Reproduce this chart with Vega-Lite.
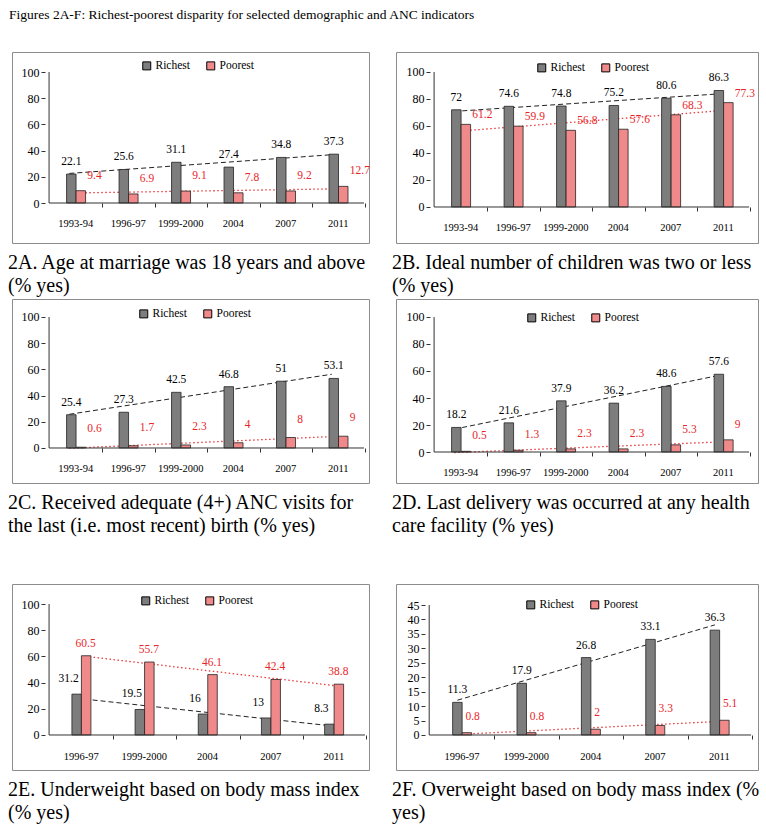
{
"$schema":"https://vega.github.io/schema/vega-lite/v6.json",
"background":"white",
"padding":{"left":7,"top":8,"right":5,"bottom":5},
"title":{"text":"Figures 2A-F: Richest-poorest disparity for selected demographic and ANC indicators","anchor":"start","frame":"group","fontSize":13.5,"fontWeight":"normal","font":"Liberation Serif","offset":30,"dx":-3,"color":"#000"},
"config":{"view":{"stroke":"#8c8c8c","strokeWidth":1},"font":"Liberation Serif","axis":{"labelFont":"Liberation Serif","labelColor":"#000","tickColor":"#333"},"legend":{"labelFont":"Liberation Serif","labelColor":"#000"},"title":{"font":"Liberation Serif","fontWeight":"normal","color":"#000"}},
"datasets":{"d":[
{"panel":"2A","idx":1,"year":"1993-94","series":"Richest","value":22.1},{"panel":"2A","idx":1,"year":"1993-94","series":"Poorest","value":9.4},
{"panel":"2A","idx":2,"year":"1996-97","series":"Richest","value":25.6},{"panel":"2A","idx":2,"year":"1996-97","series":"Poorest","value":6.9},
{"panel":"2A","idx":3,"year":"1999-2000","series":"Richest","value":31.1},{"panel":"2A","idx":3,"year":"1999-2000","series":"Poorest","value":9.1},
{"panel":"2A","idx":4,"year":"2004","series":"Richest","value":27.4},{"panel":"2A","idx":4,"year":"2004","series":"Poorest","value":7.8},
{"panel":"2A","idx":5,"year":"2007","series":"Richest","value":34.8},{"panel":"2A","idx":5,"year":"2007","series":"Poorest","value":9.2},
{"panel":"2A","idx":6,"year":"2011","series":"Richest","value":37.3},{"panel":"2A","idx":6,"year":"2011","series":"Poorest","value":12.7},
{"panel":"2B","idx":1,"year":"1993-94","series":"Richest","value":72},{"panel":"2B","idx":1,"year":"1993-94","series":"Poorest","value":61.2},
{"panel":"2B","idx":2,"year":"1996-97","series":"Richest","value":74.6},{"panel":"2B","idx":2,"year":"1996-97","series":"Poorest","value":59.9},
{"panel":"2B","idx":3,"year":"1999-2000","series":"Richest","value":74.8},{"panel":"2B","idx":3,"year":"1999-2000","series":"Poorest","value":56.8},
{"panel":"2B","idx":4,"year":"2004","series":"Richest","value":75.2},{"panel":"2B","idx":4,"year":"2004","series":"Poorest","value":57.6},
{"panel":"2B","idx":5,"year":"2007","series":"Richest","value":80.6},{"panel":"2B","idx":5,"year":"2007","series":"Poorest","value":68.3},
{"panel":"2B","idx":6,"year":"2011","series":"Richest","value":86.3},{"panel":"2B","idx":6,"year":"2011","series":"Poorest","value":77.3},
{"panel":"2C","idx":1,"year":"1993-94","series":"Richest","value":25.4},{"panel":"2C","idx":1,"year":"1993-94","series":"Poorest","value":0.6},
{"panel":"2C","idx":2,"year":"1996-97","series":"Richest","value":27.3},{"panel":"2C","idx":2,"year":"1996-97","series":"Poorest","value":1.7},
{"panel":"2C","idx":3,"year":"1999-2000","series":"Richest","value":42.5},{"panel":"2C","idx":3,"year":"1999-2000","series":"Poorest","value":2.3},
{"panel":"2C","idx":4,"year":"2004","series":"Richest","value":46.8},{"panel":"2C","idx":4,"year":"2004","series":"Poorest","value":4},
{"panel":"2C","idx":5,"year":"2007","series":"Richest","value":51},{"panel":"2C","idx":5,"year":"2007","series":"Poorest","value":8},
{"panel":"2C","idx":6,"year":"2011","series":"Richest","value":53.1},{"panel":"2C","idx":6,"year":"2011","series":"Poorest","value":9},
{"panel":"2D","idx":1,"year":"1993-94","series":"Richest","value":18.2},{"panel":"2D","idx":1,"year":"1993-94","series":"Poorest","value":0.5},
{"panel":"2D","idx":2,"year":"1996-97","series":"Richest","value":21.6},{"panel":"2D","idx":2,"year":"1996-97","series":"Poorest","value":1.3},
{"panel":"2D","idx":3,"year":"1999-2000","series":"Richest","value":37.9},{"panel":"2D","idx":3,"year":"1999-2000","series":"Poorest","value":2.3},
{"panel":"2D","idx":4,"year":"2004","series":"Richest","value":36.2},{"panel":"2D","idx":4,"year":"2004","series":"Poorest","value":2.3},
{"panel":"2D","idx":5,"year":"2007","series":"Richest","value":48.6},{"panel":"2D","idx":5,"year":"2007","series":"Poorest","value":5.3},
{"panel":"2D","idx":6,"year":"2011","series":"Richest","value":57.6},{"panel":"2D","idx":6,"year":"2011","series":"Poorest","value":9},
{"panel":"2E","idx":1,"year":"1996-97","series":"Richest","value":31.2},{"panel":"2E","idx":1,"year":"1996-97","series":"Poorest","value":60.5},
{"panel":"2E","idx":2,"year":"1999-2000","series":"Richest","value":19.5},{"panel":"2E","idx":2,"year":"1999-2000","series":"Poorest","value":55.7},
{"panel":"2E","idx":3,"year":"2004","series":"Richest","value":16},{"panel":"2E","idx":3,"year":"2004","series":"Poorest","value":46.1},
{"panel":"2E","idx":4,"year":"2007","series":"Richest","value":13},{"panel":"2E","idx":4,"year":"2007","series":"Poorest","value":42.4},
{"panel":"2E","idx":5,"year":"2011","series":"Richest","value":8.3},{"panel":"2E","idx":5,"year":"2011","series":"Poorest","value":38.8},
{"panel":"2F","idx":1,"year":"1996-97","series":"Richest","value":11.3},{"panel":"2F","idx":1,"year":"1996-97","series":"Poorest","value":0.8},
{"panel":"2F","idx":2,"year":"1999-2000","series":"Richest","value":17.9},{"panel":"2F","idx":2,"year":"1999-2000","series":"Poorest","value":0.8},
{"panel":"2F","idx":3,"year":"2004","series":"Richest","value":26.8},{"panel":"2F","idx":3,"year":"2004","series":"Poorest","value":2},
{"panel":"2F","idx":4,"year":"2007","series":"Richest","value":33.1},{"panel":"2F","idx":4,"year":"2007","series":"Poorest","value":3.3},
{"panel":"2F","idx":5,"year":"2011","series":"Richest","value":36.3},{"panel":"2F","idx":5,"year":"2011","series":"Poorest","value":5.1}
]},
"spacing":46,
"resolve":{"scale":{"fill":"independent"},"legend":{"fill":"independent"}},
"vconcat":[
{"spacing":1,"resolve":{"scale":{"fill":"independent"},"legend":{"fill":"independent"}},
 "vconcat":[
 {"hconcat":[
  {"width":357,"height":191,
   "title":{"text":["2A. Age at marriage was 18 years and above","(% yes)"],"orient":"bottom","anchor":"start","frame":"group","offset":10,"dx":-4,"fontSize":20,"lineHeight":23,"fontWeight":"normal"},
   "data":{"name":"d"},"transform":[{"filter":"datum.panel == '2A'"}],
   "encoding":{
    "x":{"field":"idx","type":"quantitative","scale":{"domain":[-0.111,6.5],"nice":false,"zero":false},"axis":{"title":null,"values":[1,2,3,4,5,6],"labelExpr":"['1993-94','1996-97','1999-2000','2004','2007','2011'][datum.value-1]","domain":false,"grid":false,"offset":-40,"tickSize":4,"tickOffset":27,"labelOffset":-27,"labelPadding":11,"labelFontSize":10.5}},
    "y":{"field":"value","type":"quantitative","scale":{"domain":[-30.53,115.27],"nice":false,"zero":false},"axis":{"title":null,"values":[0,20,40,60,80,100],"domain":false,"grid":false,"offset":-33,"tickSize":4,"labelPadding":2,"labelFontSize":12}}},
   "layer":[
    {"transform":[{"filter":"datum.series == 'Richest'"},{"regression":"value","on":"idx"}],"mark":{"type":"line","color":"#222","strokeDash":[5,3],"strokeWidth":1,"xOffset":-6}},
    {"transform":[{"filter":"datum.series == 'Poorest'"},{"regression":"value","on":"idx"}],"mark":{"type":"line","color":"#e8383a","strokeDash":[1.5,2.5],"strokeWidth":1.3,"xOffset":-6}},
    {"transform":[{"filter":"datum.series == 'Richest'"}],"mark":{"type":"bar","orient":"vertical","size":9.5,"xOffset":-4,"stroke":"#222","strokeWidth":0.8},
     "encoding":{"y2":{"datum":0},"fill":{"field":"series","type":"nominal","scale":{"domain":["Richest","Poorest"],"range":["#7d7d7d","#f08a8a"]},"legend":{"orient":"none","legendX":129,"legendY":8,"direction":"horizontal","title":null,"symbolType":"square","symbolSize":64,"symbolStrokeColor":"#000","symbolStrokeWidth":1,"labelFontSize":11.5,"labelOffset":3,"columnPadding":14,"padding":0}}}},
    {"transform":[{"filter":"datum.series == 'Poorest'"}],"mark":{"type":"bar","orient":"vertical","size":9.5,"xOffset":5.5,"stroke":"#222","strokeWidth":0.8},
     "encoding":{"y2":{"datum":0},"fill":{"field":"series","type":"nominal","scale":{"domain":["Richest","Poorest"],"range":["#7d7d7d","#f08a8a"]},"legend":null}}},
    {"transform":[{"filter":"datum.series == 'Richest'"}],"mark":{"type":"text","align":"center","baseline":"middle","dx":-4,"dy":-12,"fontSize":11.5,"color":"#000"},"encoding":{"text":{"field":"value","type":"nominal"}}},
    {"transform":[{"filter":"datum.series == 'Poorest'"}],"mark":{"type":"text","align":"left","baseline":"middle","dx":12,"dy":-15,"fontSize":11.5,"color":"#e8262a"},"encoding":{"text":{"field":"value","type":"nominal"}}},
    {"transform":[{"filter":"datum.idx == 1 && datum.series == 'Richest'"}],"mark":{"type":"rule","color":"#333","strokeWidth":1},"encoding":{"x":{"datum":0.5},"y":{"datum":0},"y2":{"datum":100}}},
    {"transform":[{"filter":"datum.idx == 1 && datum.series == 'Richest'"}],"mark":{"type":"rule","color":"#333","strokeWidth":1},"encoding":{"x":{"datum":0.5},"x2":{"datum":6.5},"y":{"datum":0}}}
   ]},
  {"width":362,"height":191,
   "title":{"text":["2B. Ideal number of children was two or less","(% yes)"],"orient":"bottom","anchor":"start","frame":"group","offset":10,"dx":-4,"fontSize":20,"lineHeight":23,"fontWeight":"normal"},
   "data":{"name":"d"},"transform":[{"filter":"datum.panel == '2B'"}],
   "encoding":{
    "x":{"field":"idx","type":"quantitative","scale":{"domain":[-0.13,6.574],"nice":false,"zero":false},"axis":{"title":null,"values":[1,2,3,4,5,6],"labelExpr":"['1993-94','1996-97','1999-2000','2004','2007','2011'][datum.value-1]","domain":false,"grid":false,"offset":-36,"tickSize":4,"tickOffset":27,"labelOffset":-27,"labelPadding":11,"labelFontSize":10.5}},
    "y":{"field":"value","type":"quantitative","scale":{"domain":[-26.67,114.81],"nice":false,"zero":false},"axis":{"title":null,"values":[0,20,40,60,80,100],"domain":false,"grid":false,"offset":-34,"tickSize":4,"labelPadding":2,"labelFontSize":12}}},
   "layer":[
    {"transform":[{"filter":"datum.series == 'Richest'"},{"regression":"value","on":"idx"}],"mark":{"type":"line","color":"#222","strokeDash":[5,3],"strokeWidth":1,"xOffset":-6}},
    {"transform":[{"filter":"datum.series == 'Poorest'"},{"regression":"value","on":"idx"}],"mark":{"type":"line","color":"#e8383a","strokeDash":[1.5,2.5],"strokeWidth":1.3,"xOffset":-6}},
    {"transform":[{"filter":"datum.series == 'Richest'"}],"mark":{"type":"bar","orient":"vertical","size":9.5,"xOffset":-4,"stroke":"#222","strokeWidth":0.8},
     "encoding":{"y2":{"datum":0},"fill":{"field":"series","type":"nominal","scale":{"domain":["Richest","Poorest"],"range":["#7d7d7d","#f08a8a"]},"legend":{"orient":"none","legendX":140,"legendY":10,"direction":"horizontal","title":null,"symbolType":"square","symbolSize":64,"symbolStrokeColor":"#000","symbolStrokeWidth":1,"labelFontSize":11.5,"labelOffset":3,"columnPadding":14,"padding":0}}}},
    {"transform":[{"filter":"datum.series == 'Poorest'"}],"mark":{"type":"bar","orient":"vertical","size":9.5,"xOffset":5.5,"stroke":"#222","strokeWidth":0.8},
     "encoding":{"y2":{"datum":0},"fill":{"field":"series","type":"nominal","scale":{"domain":["Richest","Poorest"],"range":["#7d7d7d","#f08a8a"]},"legend":null}}},
    {"transform":[{"filter":"datum.series == 'Richest'"}],"mark":{"type":"text","align":"center","baseline":"middle","dx":-4,"dy":-12,"fontSize":11.5,"color":"#000"},"encoding":{"text":{"field":"value","type":"nominal"}}},
    {"transform":[{"filter":"datum.series == 'Poorest'"}],"mark":{"type":"text","align":"left","baseline":"middle","dx":12,"dy":-9,"fontSize":11.5,"color":"#e8262a"},"encoding":{"text":{"field":"value","type":"nominal"}}},
    {"transform":[{"filter":"datum.idx == 1 && datum.series == 'Richest'"}],"mark":{"type":"rule","color":"#333","strokeWidth":1},"encoding":{"x":{"datum":0.5},"y":{"datum":0},"y2":{"datum":100}}},
    {"transform":[{"filter":"datum.idx == 1 && datum.series == 'Richest'"}],"mark":{"type":"rule","color":"#333","strokeWidth":1},"encoding":{"x":{"datum":0.5},"x2":{"datum":6.5},"y":{"datum":0}}}
   ]}
 ],"spacing":27,"bounds":"flush","resolve":{"scale":{"fill":"independent"},"legend":{"fill":"independent"}}},
 {"hconcat":[
  {"width":357,"height":184,
   "title":{"text":["2C. Received adequate (4+) ANC visits for","the last (i.e. most recent) birth  (% yes)"],"orient":"bottom","anchor":"start","frame":"group","offset":10,"dx":-4,"fontSize":20,"lineHeight":23,"fontWeight":"normal"},
   "data":{"name":"d"},"transform":[{"filter":"datum.panel == '2C'"}],
   "encoding":{
    "x":{"field":"idx","type":"quantitative","scale":{"domain":[-0.111,6.5],"nice":false,"zero":false},"axis":{"title":null,"values":[1,2,3,4,5,6],"labelExpr":"['1993-94','1996-97','1999-2000','2004','2007','2011'][datum.value-1]","domain":false,"grid":false,"offset":-35,"tickSize":4,"tickOffset":27,"labelOffset":-27,"labelPadding":11,"labelFontSize":10.5}},
    "y":{"field":"value","type":"quantitative","scale":{"domain":[-26.72,113.74],"nice":false,"zero":false},"axis":{"title":null,"values":[0,20,40,60,80,100],"domain":false,"grid":false,"offset":-33,"tickSize":4,"labelPadding":2,"labelFontSize":12}}},
   "layer":[
    {"transform":[{"filter":"datum.series == 'Richest'"},{"regression":"value","on":"idx"}],"mark":{"type":"line","color":"#222","strokeDash":[5,3],"strokeWidth":1,"xOffset":-6}},
    {"transform":[{"filter":"datum.series == 'Poorest'"},{"regression":"value","on":"idx"}],"mark":{"type":"line","color":"#e8383a","strokeDash":[1.5,2.5],"strokeWidth":1.3,"xOffset":-6}},
    {"transform":[{"filter":"datum.series == 'Richest'"}],"mark":{"type":"bar","orient":"vertical","size":9.5,"xOffset":-4,"stroke":"#222","strokeWidth":0.8},
     "encoding":{"y2":{"datum":0},"fill":{"field":"series","type":"nominal","scale":{"domain":["Richest","Poorest"],"range":["#7d7d7d","#f08a8a"]},"legend":{"orient":"none","legendX":126,"legendY":9,"direction":"horizontal","title":null,"symbolType":"square","symbolSize":64,"symbolStrokeColor":"#000","symbolStrokeWidth":1,"labelFontSize":11.5,"labelOffset":3,"columnPadding":14,"padding":0}}}},
    {"transform":[{"filter":"datum.series == 'Poorest'"}],"mark":{"type":"bar","orient":"vertical","size":9.5,"xOffset":5.5,"stroke":"#222","strokeWidth":0.8},
     "encoding":{"y2":{"datum":0},"fill":{"field":"series","type":"nominal","scale":{"domain":["Richest","Poorest"],"range":["#7d7d7d","#f08a8a"]},"legend":null}}},
    {"transform":[{"filter":"datum.series == 'Richest'"}],"mark":{"type":"text","align":"center","baseline":"middle","dx":-4,"dy":-12,"fontSize":11.5,"color":"#000"},"encoding":{"text":{"field":"value","type":"nominal"}}},
    {"transform":[{"filter":"datum.series == 'Poorest'"}],"mark":{"type":"text","align":"left","baseline":"middle","dx":12,"dy":-18,"fontSize":11.5,"color":"#e8262a"},"encoding":{"text":{"field":"value","type":"nominal"}}},
    {"transform":[{"filter":"datum.idx == 1 && datum.series == 'Richest'"}],"mark":{"type":"rule","color":"#333","strokeWidth":1},"encoding":{"x":{"datum":0.5},"y":{"datum":0},"y2":{"datum":100}}},
    {"transform":[{"filter":"datum.idx == 1 && datum.series == 'Richest'"}],"mark":{"type":"rule","color":"#333","strokeWidth":1},"encoding":{"x":{"datum":0.5},"x2":{"datum":6.5},"y":{"datum":0}}}
   ]},
  {"width":362,"height":184,
   "title":{"text":["2D. Last delivery was occurred at any health","care facility  (% yes)"],"orient":"bottom","anchor":"start","frame":"group","offset":10,"dx":-4,"fontSize":20,"lineHeight":23,"fontWeight":"normal"},
   "data":{"name":"d"},"transform":[{"filter":"datum.panel == '2D'"}],
   "encoding":{
    "x":{"field":"idx","type":"quantitative","scale":{"domain":[-0.13,6.574],"nice":false,"zero":false},"axis":{"title":null,"values":[1,2,3,4,5,6],"labelExpr":"['1993-94','1996-97','1999-2000','2004','2007','2011'][datum.value-1]","domain":false,"grid":false,"offset":-31,"tickSize":4,"tickOffset":27,"labelOffset":-27,"labelPadding":11,"labelFontSize":10.5}},
    "y":{"field":"value","type":"quantitative","scale":{"domain":[-22.96,113.33],"nice":false,"zero":false},"axis":{"title":null,"values":[0,20,40,60,80,100],"domain":false,"grid":false,"offset":-34,"tickSize":4,"labelPadding":2,"labelFontSize":12}}},
   "layer":[
    {"transform":[{"filter":"datum.series == 'Richest'"},{"regression":"value","on":"idx"}],"mark":{"type":"line","color":"#222","strokeDash":[5,3],"strokeWidth":1,"xOffset":-6}},
    {"transform":[{"filter":"datum.series == 'Poorest'"},{"regression":"value","on":"idx"}],"mark":{"type":"line","color":"#e8383a","strokeDash":[1.5,2.5],"strokeWidth":1.3,"xOffset":-6}},
    {"transform":[{"filter":"datum.series == 'Richest'"}],"mark":{"type":"bar","orient":"vertical","size":9.5,"xOffset":-4,"stroke":"#222","strokeWidth":0.8},
     "encoding":{"y2":{"datum":0},"fill":{"field":"series","type":"nominal","scale":{"domain":["Richest","Poorest"],"range":["#7d7d7d","#f08a8a"]},"legend":{"orient":"none","legendX":130,"legendY":13,"direction":"horizontal","title":null,"symbolType":"square","symbolSize":64,"symbolStrokeColor":"#000","symbolStrokeWidth":1,"labelFontSize":11.5,"labelOffset":3,"columnPadding":14,"padding":0}}}},
    {"transform":[{"filter":"datum.series == 'Poorest'"}],"mark":{"type":"bar","orient":"vertical","size":9.5,"xOffset":5.5,"stroke":"#222","strokeWidth":0.8},
     "encoding":{"y2":{"datum":0},"fill":{"field":"series","type":"nominal","scale":{"domain":["Richest","Poorest"],"range":["#7d7d7d","#f08a8a"]},"legend":null}}},
    {"transform":[{"filter":"datum.series == 'Richest'"}],"mark":{"type":"text","align":"center","baseline":"middle","dx":-4,"dy":-12,"fontSize":11.5,"color":"#000"},"encoding":{"text":{"field":"value","type":"nominal"}}},
    {"transform":[{"filter":"datum.series == 'Poorest'"}],"mark":{"type":"text","align":"left","baseline":"middle","dx":12,"dy":-15,"fontSize":11.5,"color":"#e8262a"},"encoding":{"text":{"field":"value","type":"nominal"}}},
    {"transform":[{"filter":"datum.idx == 1 && datum.series == 'Richest'"}],"mark":{"type":"rule","color":"#333","strokeWidth":1},"encoding":{"x":{"datum":0.5},"y":{"datum":0},"y2":{"datum":100}}},
    {"transform":[{"filter":"datum.idx == 1 && datum.series == 'Richest'"}],"mark":{"type":"rule","color":"#333","strokeWidth":1},"encoding":{"x":{"datum":0.5},"x2":{"datum":6.5},"y":{"datum":0}}}
   ]}
 ],"spacing":27,"bounds":"flush","resolve":{"scale":{"fill":"independent"},"legend":{"fill":"independent"}}}
 ]},
 {"hconcat":[
  {"width":357,"height":186,
   "title":{"text":["2E. Underweight based on body mass index","(% yes)"],"orient":"bottom","anchor":"start","frame":"group","offset":10,"dx":-4,"fontSize":20,"lineHeight":23,"fontWeight":"normal"},
   "data":{"name":"d"},"transform":[{"filter":"datum.panel == '2E'"}],
   "encoding":{
    "x":{"field":"idx","type":"quantitative","scale":{"domain":[-0.0077,5.485],"nice":false,"zero":false},"axis":{"title":null,"values":[1,2,3,4,5],"labelExpr":"['1996-97','1999-2000','2004','2007','2011'][datum.value-1]","domain":false,"grid":false,"offset":-35,"tickSize":4,"tickOffset":32.5,"labelOffset":-32.5,"labelPadding":12,"labelFontSize":10.5}},
    "y":{"field":"value","type":"quantitative","scale":{"domain":[-26.72,115.27],"nice":false,"zero":false},"axis":{"title":null,"values":[0,20,40,60,80,100],"domain":false,"grid":false,"offset":-33,"tickSize":4,"labelPadding":2,"labelFontSize":12}}},
   "layer":[
    {"transform":[{"filter":"datum.series == 'Richest'"},{"regression":"value","on":"idx"}],"mark":{"type":"line","color":"#222","strokeDash":[5,3],"strokeWidth":1,"xOffset":-4}},
    {"transform":[{"filter":"datum.series == 'Poorest'"},{"regression":"value","on":"idx"}],"mark":{"type":"line","color":"#e8383a","strokeDash":[1.5,2.5],"strokeWidth":1.3,"xOffset":5}},
    {"transform":[{"filter":"datum.series == 'Richest'"}],"mark":{"type":"bar","orient":"vertical","size":9.5,"xOffset":-4,"stroke":"#222","strokeWidth":0.8},
     "encoding":{"y2":{"datum":0},"fill":{"field":"series","type":"nominal","scale":{"domain":["Richest","Poorest"],"range":["#7d7d7d","#f08a8a"]},"legend":{"orient":"none","legendX":128,"legendY":11,"direction":"horizontal","title":null,"symbolType":"square","symbolSize":64,"symbolStrokeColor":"#000","symbolStrokeWidth":1,"labelFontSize":11.5,"labelOffset":3,"columnPadding":14,"padding":0}}}},
    {"transform":[{"filter":"datum.series == 'Poorest'"}],"mark":{"type":"bar","orient":"vertical","size":9.5,"xOffset":5.5,"stroke":"#222","strokeWidth":0.8},
     "encoding":{"y2":{"datum":0},"fill":{"field":"series","type":"nominal","scale":{"domain":["Richest","Poorest"],"range":["#7d7d7d","#f08a8a"]},"legend":null}}},
    {"transform":[{"filter":"datum.series == 'Richest'"}],"mark":{"type":"text","align":"center","baseline":"middle","dx":-12,"dy":-15,"fontSize":11.5,"color":"#000"},"encoding":{"text":{"field":"value","type":"nominal"}}},
    {"transform":[{"filter":"datum.series == 'Poorest'"}],"mark":{"type":"text","align":"center","baseline":"middle","dx":5,"dy":-12,"fontSize":11.5,"color":"#e8262a"},"encoding":{"text":{"field":"value","type":"nominal"}}},
    {"transform":[{"filter":"datum.idx == 1 && datum.series == 'Richest'"}],"mark":{"type":"rule","color":"#333","strokeWidth":1},"encoding":{"x":{"datum":0.5},"y":{"datum":0},"y2":{"datum":100}}},
    {"transform":[{"filter":"datum.idx == 1 && datum.series == 'Richest'"}],"mark":{"type":"rule","color":"#333","strokeWidth":1},"encoding":{"x":{"datum":0.5},"x2":{"datum":5.5},"y":{"datum":0}}}
   ]},
  {"width":362,"height":186,
   "title":{"text":["2F. Overweight based on body mass index (%","yes)"],"orient":"bottom","anchor":"start","frame":"group","offset":10,"dx":-4,"fontSize":20,"lineHeight":23,"fontWeight":"normal"},
   "data":{"name":"d"},"transform":[{"filter":"datum.panel == '2F'"}],
   "encoding":{
    "x":{"field":"idx","type":"quantitative","scale":{"domain":[0.062,5.53],"nice":false,"zero":false},"axis":{"title":null,"values":[1,2,3,4,5],"labelExpr":"['1996-97','1999-2000','2004','2007','2011'][datum.value-1]","domain":false,"grid":false,"offset":-35,"tickSize":4,"tickOffset":33.1,"labelOffset":-33.1,"labelPadding":12,"labelFontSize":10.5}},
    "y":{"field":"value","type":"quantitative","scale":{"domain":[-12.12,52.27],"nice":false,"zero":false},"axis":{"title":null,"values":[0,5,10,15,20,25,30,35,40,45],"domain":false,"grid":false,"offset":-29,"tickSize":4,"labelPadding":2,"labelFontSize":12}}},
   "layer":[
    {"transform":[{"filter":"datum.series == 'Richest'"},{"regression":"value","on":"idx"}],"mark":{"type":"line","color":"#222","strokeDash":[5,3],"strokeWidth":1,"xOffset":-4}},
    {"transform":[{"filter":"datum.series == 'Poorest'"},{"regression":"value","on":"idx"}],"mark":{"type":"line","color":"#e8383a","strokeDash":[1.5,2.5],"strokeWidth":1.3,"xOffset":-4}},
    {"transform":[{"filter":"datum.series == 'Richest'"}],"mark":{"type":"bar","orient":"vertical","size":9.5,"xOffset":-4,"stroke":"#222","strokeWidth":0.8},
     "encoding":{"y2":{"datum":0},"fill":{"field":"series","type":"nominal","scale":{"domain":["Richest","Poorest"],"range":["#7d7d7d","#f08a8a"]},"legend":{"orient":"none","legendX":129,"legendY":15,"direction":"horizontal","title":null,"symbolType":"square","symbolSize":64,"symbolStrokeColor":"#000","symbolStrokeWidth":1,"labelFontSize":11.5,"labelOffset":3,"columnPadding":14,"padding":0}}}},
    {"transform":[{"filter":"datum.series == 'Poorest'"}],"mark":{"type":"bar","orient":"vertical","size":9.5,"xOffset":5.5,"stroke":"#222","strokeWidth":0.8},
     "encoding":{"y2":{"datum":0},"fill":{"field":"series","type":"nominal","scale":{"domain":["Richest","Poorest"],"range":["#7d7d7d","#f08a8a"]},"legend":null}}},
    {"transform":[{"filter":"datum.series == 'Richest'"}],"mark":{"type":"text","align":"center","baseline":"middle","dx":-4,"dy":-12,"fontSize":11.5,"color":"#000"},"encoding":{"text":{"field":"value","type":"nominal"}}},
    {"transform":[{"filter":"datum.series == 'Poorest'"}],"mark":{"type":"text","align":"left","baseline":"middle","dx":4,"dy":-16,"fontSize":11.5,"color":"#e8262a"},"encoding":{"text":{"field":"value","type":"nominal"}}},
    {"transform":[{"filter":"datum.idx == 1 && datum.series == 'Richest'"}],"mark":{"type":"rule","color":"#333","strokeWidth":1},"encoding":{"x":{"datum":0.5},"y":{"datum":0},"y2":{"datum":45}}},
    {"transform":[{"filter":"datum.idx == 1 && datum.series == 'Richest'"}],"mark":{"type":"rule","color":"#333","strokeWidth":1},"encoding":{"x":{"datum":0.5},"x2":{"datum":5.5},"y":{"datum":0}}}
   ]}
 ],"spacing":27,"bounds":"flush","resolve":{"scale":{"fill":"independent"},"legend":{"fill":"independent"}}}
]
}
